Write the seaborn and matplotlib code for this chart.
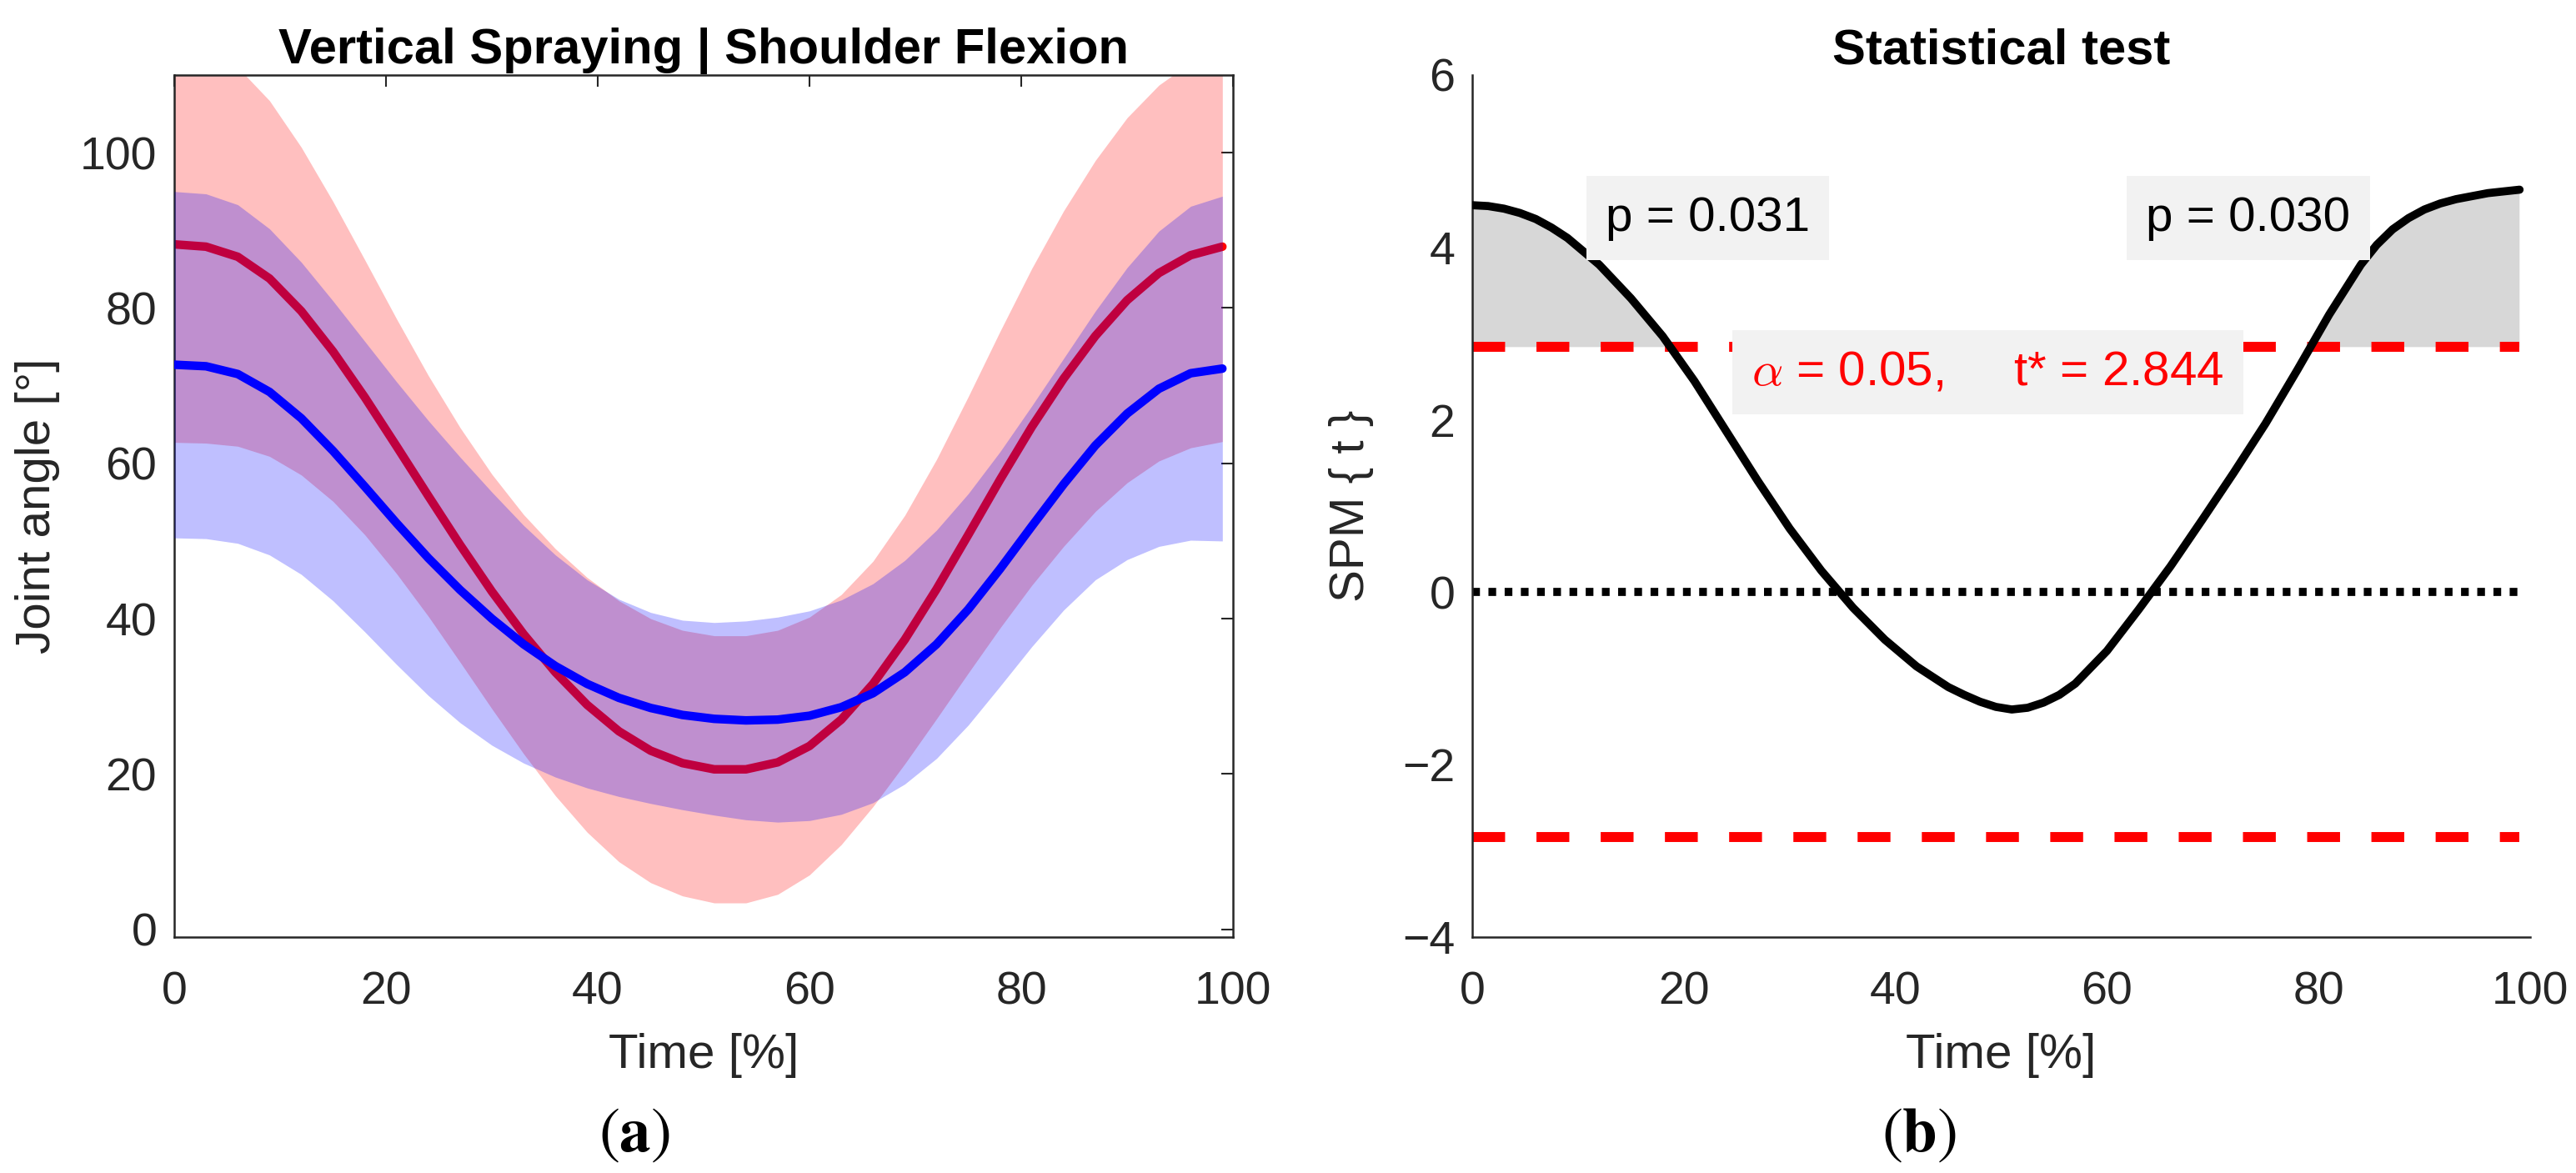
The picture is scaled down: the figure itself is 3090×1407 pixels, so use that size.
import numpy as np
import pandas as pd
import matplotlib
matplotlib.use("Agg")
import matplotlib.pyplot as plt
import seaborn as sns

# ---------------- data ----------------
time_pct = [0, 3, 6, 9, 12, 15, 18, 21, 24, 27, 30, 33, 36, 39, 42, 45, 48, 51,
            54, 57, 60, 63, 66, 69, 72, 75, 78, 81, 84, 87, 90, 93, 96, 99]

# group 1 (red): mean joint angle and SD
red_mean = [88.2, 87.9, 86.6, 83.8, 79.6, 74.4, 68.5, 62.2, 55.8, 49.5, 43.5, 38.0,
            33.1, 28.9, 25.5, 23.0, 21.4, 20.6, 20.6, 21.5, 23.6, 27.0, 31.6, 37.3,
            43.8, 50.8, 57.9, 64.7, 70.9, 76.4, 81.0, 84.5, 86.8, 87.9]
red_sd = [25.5, 25.3, 24.4, 22.9, 21.1, 19.3, 17.7, 16.4, 15.5, 15.1, 15.1, 15.4,
          15.9, 16.4, 16.8, 17.0, 17.1, 17.2, 17.2, 17.0, 16.6, 16.1, 15.8, 16.0,
          16.7, 17.8, 19.1, 20.4, 21.6, 22.6, 23.5, 24.2, 24.8, 25.1]

# group 2 (blue): mean joint angle and SD
blue_mean = [72.7, 72.5, 71.5, 69.2, 65.8, 61.6, 57.0, 52.3, 47.8, 43.7, 40.0, 36.7,
             33.9, 31.6, 29.8, 28.5, 27.6, 27.1, 26.9, 27.0, 27.5, 28.6, 30.4, 33.1,
             36.7, 41.2, 46.4, 51.9, 57.3, 62.3, 66.4, 69.6, 71.6, 72.2]
blue_sd = [22.3, 22.2, 21.8, 21.0, 20.1, 19.3, 18.7, 18.2, 17.7, 17.1, 16.3, 15.3,
           14.3, 13.4, 12.7, 12.3, 12.2, 12.4, 12.8, 13.2, 13.5, 13.8, 14.1, 14.4,
           14.7, 14.9, 15.1, 15.5, 16.2, 17.3, 18.8, 20.3, 21.5, 22.2]

# SPM{t} statistic (read more densely where the curve bends)
spm_time = [0, 1.5, 3, 4.5, 6, 7.5, 9, 12, 15, 18, 21, 24, 27, 30, 33, 36, 39, 42,
            45, 46.5, 48, 49.5, 51, 52.5, 54, 55.5, 57, 60, 63, 66, 69, 72, 75, 78,
            81, 84, 85.5, 87, 88.5, 90, 91.5, 93, 96, 99]
spm_t = [4.49, 4.48, 4.45, 4.40, 4.33, 4.23, 4.11, 3.80, 3.41, 2.97, 2.45, 1.87,
         1.29, 0.74, 0.25, -0.18, -0.55, -0.86, -1.10, -1.19, -1.27, -1.33, -1.36,
         -1.34, -1.28, -1.19, -1.06, -0.68, -0.20, 0.30, 0.84, 1.39, 1.96, 2.58,
         3.22, 3.80, 4.03, 4.21, 4.34, 4.44, 4.51, 4.56, 4.63, 4.67]
t_crit = 2.844
alpha_level = 0.05
p_values = ["0.031", "0.030"]

x_ticks = [0, 20, 40, 60, 80, 100]
y_ticks_a = [0, 20, 40, 60, 80, 100]
y_ticks_b = [-4, -2, 0, 2, 4, 6]

df = pd.DataFrame({"t": time_pct, "rm": red_mean, "rs": red_sd,
                   "bm": blue_mean, "bs": blue_sd})
ds = pd.DataFrame({"t": spm_time, "spm": spm_t})

# ---------------- style ----------------
sns.set_theme(style="white")
plt.rcParams["font.family"] = ["Liberation Sans", "DejaVu Sans"]
plt.rcParams["axes.unicode_minus"] = True
plt.rcParams["lines.solid_joinstyle"] = "round"

AXC = "#262626"
W, H = 3090, 1407
fig = plt.figure(figsize=(W / 100, H / 100), dpi=100)
fig.patch.set_facecolor("white")

ax_a = fig.add_axes([209 / W, 1 - 1124 / H, 1270 / W, 1034 / H])
ax_b = fig.add_axes([1766 / W, 1 - 1124 / H, 1269 / W, 1034 / H])

# ---------------- panel (a) ----------------
ax_a.fill_between(df["t"], df["rm"] - df["rs"], df["rm"] + df["rs"],
                  color="#FF0000", alpha=0.25, lw=0, zorder=1)
sns.lineplot(data=df, x="t", y="rm", ax=ax_a, color="#FF0000", lw=7.4, zorder=2)
ax_a.fill_between(df["t"], df["bm"] - df["bs"], df["bm"] + df["bs"],
                  color="#0000FF", alpha=0.25, lw=0, zorder=3)
sns.lineplot(data=df, x="t", y="bm", ax=ax_a, color="#0000FF", lw=7.4, zorder=4)

ax_a.set_xlim(0, 100)
ax_a.set_ylim(-1, 110)
ax_a.set_xticks(x_ticks)
ax_a.set_yticks(y_ticks_a)
ax_a.set_title("Vertical Spraying | Shoulder Flexion", fontsize=43,
               fontweight="bold", pad=10, color="black")
ax_a.set_xlabel("Time [%]", fontsize=42, color=AXC)
ax_a.set_ylabel("Joint angle [°]", fontsize=42, color=AXC)
ax_a.xaxis.set_label_coords(0.5, -0.111)
ax_a.yaxis.set_label_coords(-0.108, 0.5)
ax_a.tick_params(axis="both", direction="in", length=10, width=1.5,
                 colors=AXC, labelsize=40, top=True, right=True)
ax_a.tick_params(axis="x", pad=29)
ax_a.tick_params(axis="y", pad=15)
for s in ax_a.spines.values():
    s.set_color(AXC)
    s.set_linewidth(1.8)
    s.set_visible(True)

# ---------------- panel (b) ----------------
spm = ds["spm"].to_numpy()
tt = ds["t"].to_numpy()
ax_b.fill_between(tt, spm, t_crit, where=spm > t_crit, interpolate=True,
                  color="#D7D7D7", lw=0, zorder=1)
sns.lineplot(data=ds, x="t", y="spm", ax=ax_b, color="black", lw=7, zorder=3)
ax_b.hlines([t_crit, -t_crit], tt.min(), tt.max(), colors="#FF0000",
            linewidth=8.6, linestyles=(0, (3.3, 3.15)), zorder=2)
ax_b.hlines([0], tt.min(), tt.max(), colors="black",
            linewidth=7, linestyles=(0, (0.95, 1.05)), zorder=2)

box = dict(boxstyle="square,pad=0.4", fc="#F2F2F2", ec="none")
ax_b.text(12.6, 4.34, f"p = {p_values[0]}", fontsize=42, color="black",
          ha="left", va="center", bbox=box, zorder=6)
ax_b.text(63.7, 4.34, f"p = {p_values[1]}", fontsize=42, color="black",
          ha="left", va="center", bbox=box, zorder=6)
ax_b.text(26.4, 2.55, r"$\alpha$" + f" = {alpha_level:.2f},     t* = {t_crit:.3f}",
          fontsize=42, color="#FF0000", ha="left", va="center", bbox=box,
          zorder=6, math_fontfamily="cm")

ax_b.set_xlim(0, 100)
ax_b.set_ylim(-4, 6)
ax_b.set_xticks(x_ticks)
ax_b.set_yticks(y_ticks_b)
ax_b.set_title("Statistical test", fontsize=43, fontweight="bold", pad=10,
               color="black")
ax_b.set_xlabel("Time [%]", fontsize=42, color=AXC)
ax_b.set_ylabel("SPM { t }", fontsize=42, color=AXC)
ax_b.xaxis.set_label_coords(0.5, -0.111)
ax_b.yaxis.set_label_coords(-0.093, 0.5)
ax_b.tick_params(axis="both", direction="in", length=10, width=1.5,
                 colors=AXC, labelsize=40, top=False, right=False)
ax_b.tick_params(axis="x", pad=29)
ax_b.tick_params(axis="y", pad=15)
for name, s in ax_b.spines.items():
    s.set_color(AXC)
    s.set_linewidth(1.8)
ax_b.spines["top"].set_visible(False)
ax_b.spines["right"].set_visible(False)

# ---------------- sub-figure labels ----------------
fig.text(761 / W, 1 - 1362 / H, r"$(\mathbf{a})$", fontsize=54, ha="center",
         va="center", math_fontfamily="stix", color="black")
fig.text(2302 / W, 1 - 1362 / H, r"$(\mathbf{b})$", fontsize=54, ha="center",
         va="center", math_fontfamily="stix", color="black")

fig.savefig("out.png", dpi=100, facecolor="white")
